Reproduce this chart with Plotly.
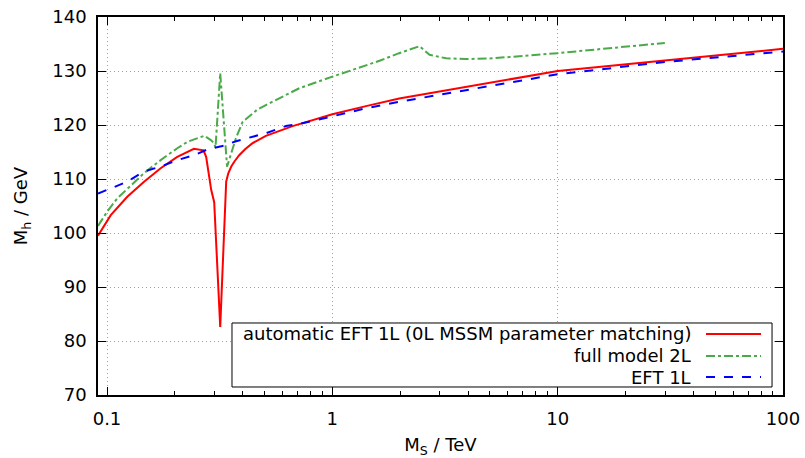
import plotly.graph_objects as go

# --- data ---
eft_auto_x = [0.0912, 0.1039, 0.123, 0.146, 0.173, 0.205, 0.243, 0.2565, 0.268, 0.2754, 0.290,
              0.299, 0.318, 0.338, 0.345, 0.356, 0.367, 0.386, 0.41, 0.441, 0.474, 0.507, 0.666,
              1.0, 1.41, 1.98, 10.0, 30.4, 100.0]
eft_auto_y = [99.5, 103.3, 106.7, 109.5, 112.0, 114.1, 115.6, 115.5, 115.3, 114.1, 108.0,
              105.7, 82.6, 109.5, 111.0, 112.3, 113.2, 114.4, 115.5, 116.6, 117.3, 118.0, 119.8,
              122.0, 123.5, 124.9, 130.0, 132.0, 134.1]

full2l_x = [0.0912, 0.1003, 0.111, 0.128, 0.146, 0.173, 0.205, 0.228, 0.27, 0.289, 0.299, 0.303,
            0.318, 0.341, 0.348, 0.373, 0.40, 0.466, 0.507, 0.713, 1.0, 1.62, 1.98, 2.44,
            2.70, 3.2, 3.92, 5.14, 10.0, 29.9]
full2l_y = [101.3, 104.0, 106.4, 108.9, 111.1, 113.5, 115.7, 116.9, 118.0, 117.2, 116.6, 115.8,
            129.6, 112.3, 113.5, 117.5, 120.6, 122.9, 123.7, 126.8, 128.95, 131.9, 133.3, 134.6,
            133.0, 132.35, 132.2, 132.35, 133.3, 135.2]

eft1l_x = [0.0912, 0.123, 0.146, 0.173, 0.205, 0.243, 0.28, 0.325, 0.374, 0.437, 0.509, 0.622,
           0.714, 1.0, 1.41, 1.98, 10.0, 30.4, 100.0]
eft1l_y = [107.3, 109.5, 111.4, 112.3, 113.5, 114.4, 115.5, 116.1, 117.0, 117.8, 118.5, 119.8,
           120.2, 121.6, 123.1, 124.3, 129.4, 131.7, 133.6]

names = ["automatic EFT 1L (0L MSSM parameter matching)", "full model 2L", "EFT 1L"]
colors = ["#ff0000", "#4aaa48", "#0000ff"]
dashes = ["solid", "dashdot", "dash"]

x_ticks = [0.1, 1, 10, 100]
x_tick_text = ["0.1", "1", "10", "100"]
y_ticks = [70, 80, 90, 100, 110, 120, 130, 140]

FONT = "DejaVu Sans"
FS = 18

fig = go.Figure()
series = [(eft_auto_x, eft_auto_y), (full2l_x, full2l_y), (eft1l_x, eft1l_y)]
for (xs, ys), n, c, d in zip(series, names, colors, dashes):
    fig.add_trace(go.Scatter(x=xs, y=ys, mode="lines", name=n,
                             line=dict(color=c, width=2, dash=d), showlegend=False))

minor_vals = [m * 10 ** e for e in (-2, -1, 0, 1) for m in range(2, 10)]
GRID = dict(showgrid=True, gridcolor="#a0a0a0", griddash="1px,3px", gridwidth=1)

fig.update_layout(
    width=805, height=458,
    margin=dict(l=98, r=22, t=17, b=63),
    paper_bgcolor="white", plot_bgcolor="white",
    font=dict(family=FONT, size=FS, color="black"),
    xaxis=dict(type="log", range=[-1.04, 2], tickvals=x_ticks, ticktext=x_tick_text,
               ticks="inside", ticklen=8, tickcolor="black", showline=True, linecolor="black",
               linewidth=1.5, mirror="allticks", zeroline=False, ticklabelstandoff=7,
               automargin=False,
               minor=dict(tickvals=minor_vals, ticks="inside", ticklen=4, tickcolor="black",
                          showgrid=False),
               title=dict(text="M<sub>S</sub> / TeV", standoff=16,
                          font=dict(family=FONT, size=FS)), **GRID),
    yaxis=dict(range=[70, 140], tickvals=y_ticks, ticks="inside", ticklen=8, tickcolor="black",
               showline=True, linecolor="black", linewidth=1.5, mirror="allticks",
               zeroline=False, ticklabelstandoff=6, automargin=False,
               title=dict(text="M<sub>h</sub> / GeV", standoff=20,
                          font=dict(family=FONT, size=FS)), **GRID),
)

# manual legend (text right-aligned, sample on the right, as in the reference)
fig.add_shape(type="rect", xref="paper", yref="paper", x0=0.1956, x1=0.984, y0=0.0212,
              y1=0.1905, line=dict(color="black", width=1), fillcolor="white", layer="above")
rows_y = [0.1614, 0.1032, 0.0476]
for n, c, d, yy in zip(names, colors, dashes, rows_y):
    fig.add_annotation(x=0.8686, y=yy, xref="paper", yref="paper", text=n, showarrow=False,
                       xanchor="right", yanchor="middle", font=dict(family=FONT, size=FS))
    fig.add_shape(type="line", xref="paper", yref="paper", x0=0.8876, x1=0.9679, y0=yy, y1=yy,
                  line=dict(color=c, width=2, dash=d), layer="above")

# remove the default 8px page margin so the figure fills the window exactly
fig.write_html("out.html", config={"displayModeBar": False},
               post_script="document.body.style.margin='0';")
